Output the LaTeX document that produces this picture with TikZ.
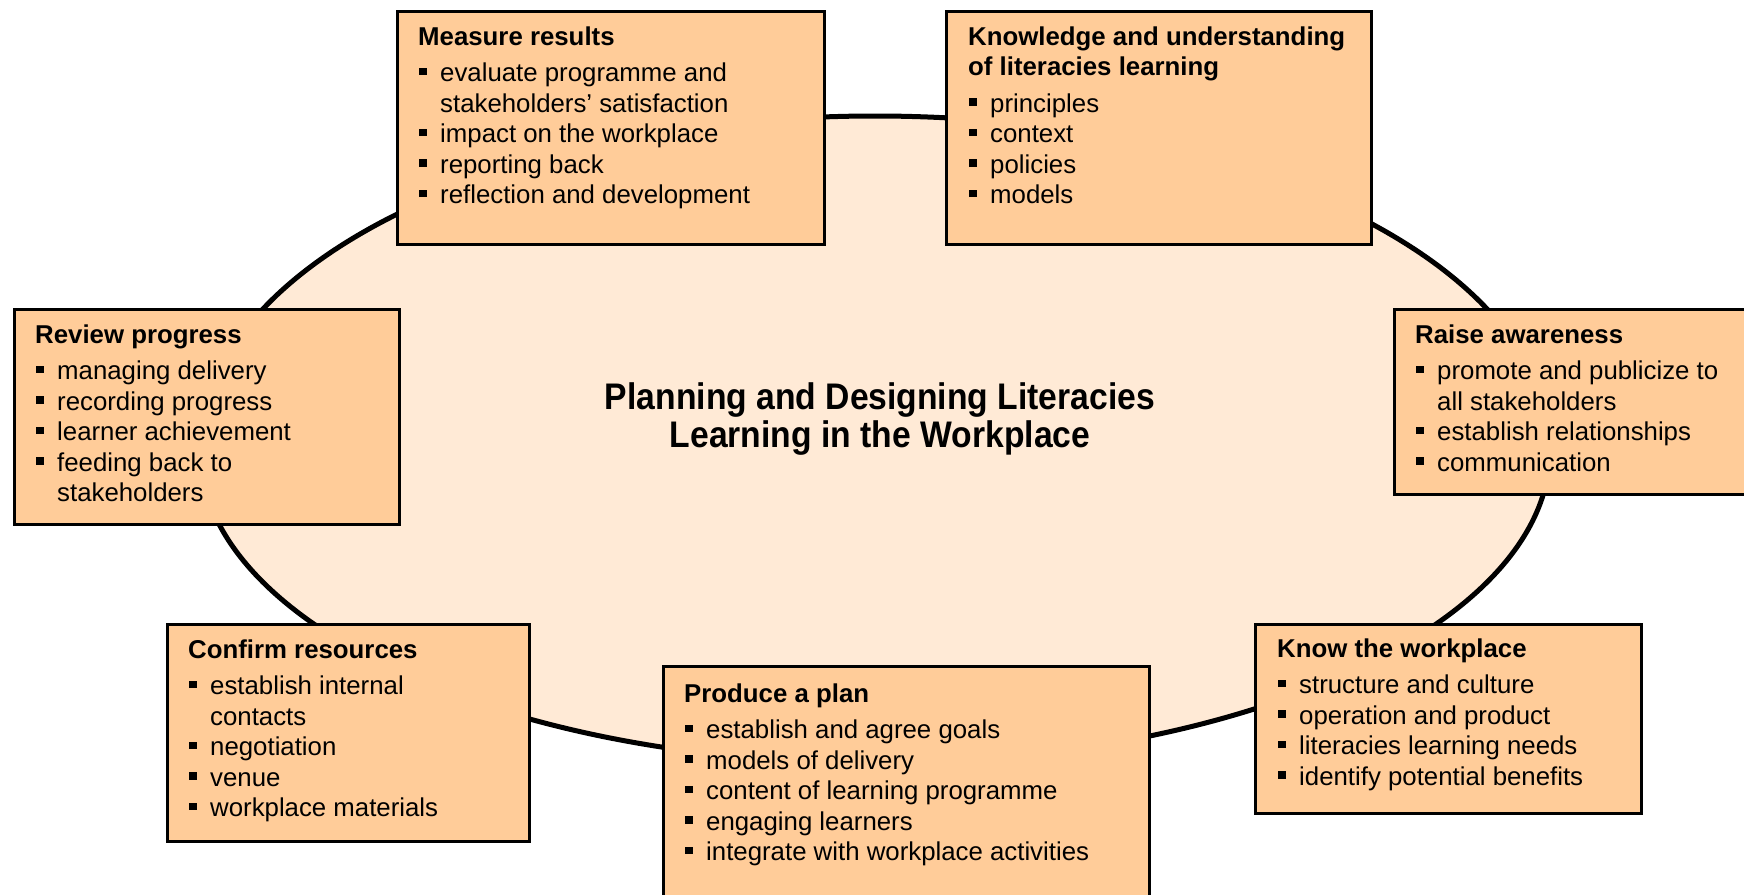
\documentclass[tikz,border=0pt]{standalone}
\usepackage{fontspec}
\setmainfont{Liberation Sans}
\definecolor{boxfill}{RGB}{255,204,153}
\definecolor{ellfill}{RGB}{255,234,214}
\newcommand\bxitem[1]{\par\hangindent=22pt\hangafter=1\noindent\makebox[22pt][l]{\hspace{1pt}\raisebox{6.5pt}{\rule{7.5pt}{7.5pt}}}#1}
\newcommand\bxcontent[2]{\parbox[t]{470pt}{\parindent=0pt\parskip=0pt\fontsize{25.8}{30.5}\selectfont\textbf{#1}\par\vspace{6pt}#2}}
\tikzset{
  boxst/.style={draw=black, line width=3pt, fill=boxfill, rectangle, inner sep=0pt, anchor=north west},
  txtst/.style={anchor=base west, inner sep=0pt},
  ellst/.style={draw=black, line width=5pt, fill=ellfill}
}
\begin{document}
\begin{tikzpicture}[x=1pt,y=-1pt]
\useasboundingbox (0,0) rectangle (1744,894);
\clip (0,0) rectangle (1744,894);
\fill[white] (0,0) rectangle (1744,894);
% central ellipse
\draw[ellst] (200,450) arc[start angle=180, end angle=360, x radius=675, y radius=334]
  arc[start angle=0, end angle=180, x radius=675, y radius=313] -- cycle;
\node[inner sep=0pt, align=center, font=\bfseries\fontsize{37}{38.5}\selectfont] (title) at (880,419)
  {\scalebox{0.91}[1]{Planning and Designing Literacies}\\\scalebox{0.91}[1]{Learning in the Workplace}};
% boxes
\node[boxst, minimum width=427pt, minimum height=233pt] (b1) at (396,10) {};
\node[txtst] (t1) at (418,45) {\bxcontent{Measure results}{%
  \bxitem{evaluate programme and\newline stakeholders’ satisfaction}%
  \bxitem{impact on the workplace}%
  \bxitem{reporting back}%
  \bxitem{reflection and development}}};
\node[boxst, minimum width=425pt, minimum height=233pt] (b2) at (945,10) {};
\node[txtst] (t2) at (968,45) {\bxcontent{Knowledge and understanding\newline of literacies learning}{%
  \bxitem{principles}%
  \bxitem{context}%
  \bxitem{policies}%
  \bxitem{models}}};
\node[boxst, minimum width=385pt, minimum height=215pt] (b3) at (13,308) {};
\node[txtst] (t3) at (35,343) {\bxcontent{Review progress}{%
  \bxitem{managing delivery}%
  \bxitem{recording progress}%
  \bxitem{learner achievement}%
  \bxitem{feeding back to\newline stakeholders}}};
\node[boxst, minimum width=380pt, minimum height=185pt] (b4) at (1393,308) {};
\node[txtst] (t4) at (1415,343) {\bxcontent{Raise awareness}{%
  \bxitem{promote and publicize to\newline all stakeholders}%
  \bxitem{establish relationships}%
  \bxitem{communication}}};
\node[boxst, minimum width=362pt, minimum height=217pt] (b5) at (166,623) {};
\node[txtst] (t5) at (188,658) {\bxcontent{Confirm resources}{%
  \bxitem{establish internal\newline contacts}%
  \bxitem{negotiation}%
  \bxitem{venue}%
  \bxitem{workplace materials}}};
\node[boxst, minimum width=486pt, minimum height=260pt] (b6) at (662,665) {};
\node[txtst] (t6) at (684,702) {\bxcontent{Produce a plan}{%
  \bxitem{establish and agree goals}%
  \bxitem{models of delivery}%
  \bxitem{content of learning programme}%
  \bxitem{engaging learners}%
  \bxitem{integrate with workplace activities}}};
\node[boxst, minimum width=386pt, minimum height=189pt] (b7) at (1254,623) {};
\node[txtst] (t7) at (1277,657) {\bxcontent{Know the workplace}{%
  \bxitem{structure and culture}%
  \bxitem{operation and product}%
  \bxitem{literacies learning needs}%
  \bxitem{identify potential benefits}}};
\end{tikzpicture}
\end{document}
